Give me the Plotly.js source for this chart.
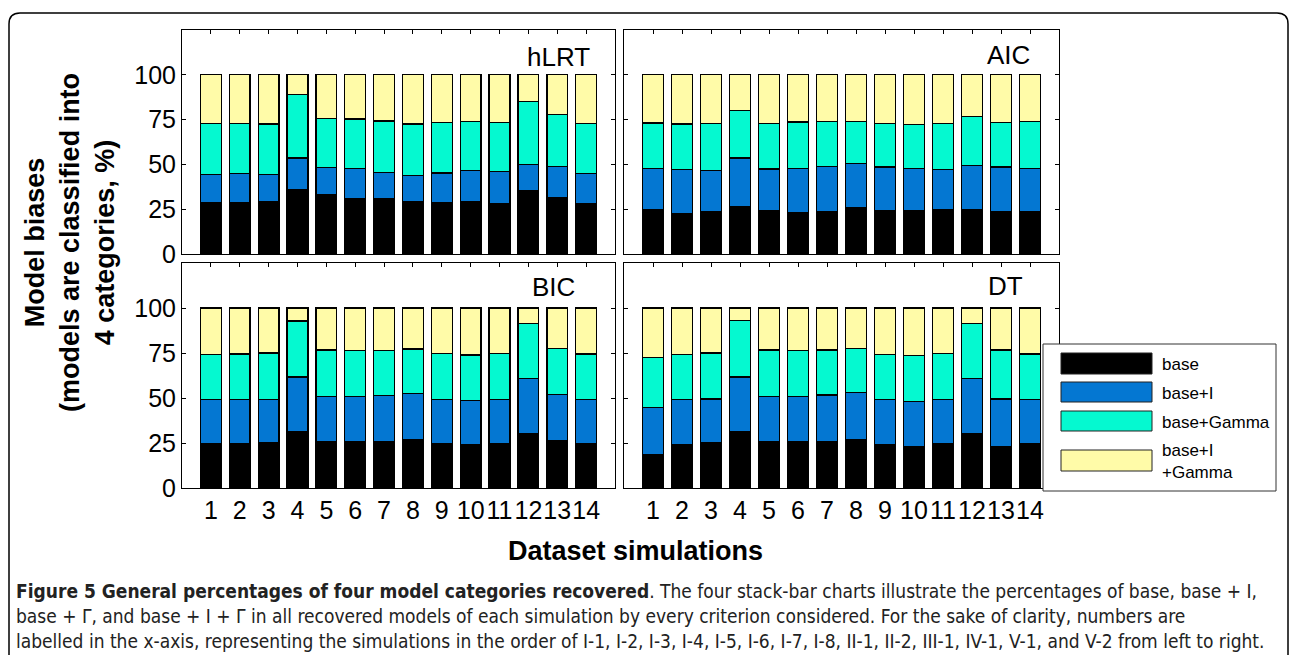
<!DOCTYPE html>
<html>
<head>
<meta charset="utf-8">
<script src="https://cdn.plot.ly/plotly-3.0.1.min.js"></script>
<style>html,body{margin:0;padding:0;background:#fff;}#chart{width:1290px;height:655px;}</style>
</head>
<body>
<div id="chart"></div>
<script>
// ---- data ----
const simulations = [1,2,3,4,5,6,7,8,9,10,11,12,13,14];
const tickLabels = ["1","2","3","4","5","6","7","8","9","10","11","12","13","14"];
const seriesNames = ["base","base+I","base+Gamma","base+I<br>+Gamma"];
const criteria = ["hLRT","AIC","BIC","DT"];

const hLRT_base   = [28.4,28.4,29.0,35.9,33.3,30.8,30.8,29.2,28.4,29.0,27.9,35.3,31.2,27.9];
const hLRT_I      = [16.1,16.5,15.3,17.7,14.9,17.1,14.8,14.7,16.8,17.7,18.3,14.6,17.8,17.0];
const hLRT_G      = [28.2,27.8,28.2,35.6,27.5,27.4,28.6,28.6,28.1,27.1,27.3,35.1,28.8,27.8];
const hLRT_IG     = [27.3,27.3,27.5,10.8,24.3,24.7,25.8,27.5,26.7,26.2,26.5,15.0,22.2,27.3];

const AIC_base    = [24.5,22.6,23.7,26.2,24.3,22.8,23.6,25.6,24.3,24.3,24.5,24.7,23.7,23.7];
const AIC_I       = [23.2,24.7,23.0,27.3,23.2,25.1,25.2,24.9,24.3,23.6,22.6,24.5,24.9,24.2];
const AIC_G       = [25.4,25.2,26.2,26.7,25.4,25.7,25.2,23.3,24.1,24.2,25.6,27.6,24.9,25.9];
const AIC_IG      = [26.9,27.5,27.1,19.8,27.1,26.4,26.0,26.2,27.3,27.9,27.3,23.2,26.5,26.2];

const BIC_base    = [24.6,24.6,25.0,31.3,25.5,25.5,25.9,26.8,24.8,24.2,24.8,30.4,26.4,24.8];
const BIC_I       = [24.4,24.7,24.3,30.3,25.5,25.5,25.5,25.7,24.5,24.6,24.5,30.3,25.4,24.4];
const BIC_G       = [25.3,25.2,25.7,31.1,25.7,25.4,25.1,24.8,25.4,25.1,25.6,30.7,25.7,25.3];
const BIC_IG      = [25.7,25.5,25.0, 7.3,23.3,23.6,23.5,22.7,25.3,26.1,25.1, 8.6,22.5,25.5];

const DT_base     = [18.4,24.0,25.0,31.3,25.5,25.5,25.9,26.8,24.0,23.1,24.6,30.4,23.1,24.8];
const DT_I        = [26.5,25.0,24.5,30.3,25.5,25.5,25.7,26.1,25.0,25.1,24.6,30.3,26.4,24.5];
const DT_G        = [27.5,25.3,25.5,31.3,25.7,25.4,25.1,24.6,25.3,25.4,25.5,30.7,27.2,25.2];
const DT_IG       = [27.6,25.7,25.0, 7.1,23.3,23.6,23.3,22.5,25.7,26.4,25.3, 8.6,23.3,25.5];

const yTickVals = [0,25,50,75,100];

const captionLines = [
  "<b>Figure 5 General percentages of four model categories recovered</b>. The four stack-bar charts illustrate the percentages of base, base + I,",
  "base + Γ, and base + I + Γ in all recovered models of each simulation by every criterion considered. For the sake of clarity, numbers are",
  "labelled in the x-axis, representing the simulations in the order of I-1, I-2, I-3, I-4, I-5, I-6, I-7, I-8, II-1, II-2, III-1, IV-1, V-1, and V-2 from left to right."
];

// ---- styling ----
const W = 1290, H = 655;
const px = v => v / W;
const py = v => 1 - v / H;
const colors = ["#000000", "#0477d2", "#05f9d0", "#fffba8"];
const FONT = "Liberation Sans, Arial, Helvetica, sans-serif";

const panelData = [
  [hLRT_base, hLRT_I, hLRT_G, hLRT_IG],
  [AIC_base, AIC_I, AIC_G, AIC_IG],
  [BIC_base, BIC_I, BIC_G, BIC_IG],
  [DT_base, DT_I, DT_G, DT_IG]
];
const axisIds = ["", "2", "3", "4"];

const traces = [];
panelData.forEach((series, p) => {
  series.forEach((vals, s) => {
    traces.push({
      type: "bar",
      x: simulations,
      y: vals,
      name: seriesNames[s],
      xaxis: "x" + axisIds[p],
      yaxis: "y" + axisIds[p],
      width: 0.72,
      marker: { color: colors[s], line: { color: "#000", width: 1.3 } },
      showlegend: false,
      hoverinfo: "x+y+name"
    });
  });
});

const xDomL = [px(182), px(615)];
const xDomR = [px(624), px(1059)];
const yDomT = [py(254), py(30)];
const yDomB = [py(488), py(263)];

function xAxis(domain, anchor, showLabels) {
  return {
    domain: domain, anchor: anchor, range: [0, 15],
    tickvals: simulations, ticktext: tickLabels,
    showticklabels: showLabels, tickangle: 0,
    ticks: "inside", ticklen: 4, tickwidth: 1, tickcolor: "#000",
    showline: true, linecolor: "#000", linewidth: 1, mirror: "ticks",
    showgrid: false, zeroline: false, fixedrange: true,
    tickfont: { family: FONT, size: 25, color: "#000" }
  };
}
function yAxis(domain, anchor, showLabels) {
  return {
    domain: domain, anchor: anchor, range: [0, 125],
    tickvals: yTickVals, ticktext: yTickVals.map(String),
    showticklabels: showLabels,
    ticks: "inside", ticklen: 4, tickwidth: 1, tickcolor: "#000",
    showline: true, linecolor: "#000", linewidth: 1, mirror: "ticks",
    showgrid: false, zeroline: false, fixedrange: true,
    tickfont: { family: FONT, size: 25, color: "#000" }
  };
}

const annotations = [];
// panel titles
const titlePos = [[592, 57], [1032, 55], [577, 287], [1025, 286]];
criteria.forEach((c, i) => {
  annotations.push({
    xref: "paper", yref: "paper", x: px(titlePos[i][0]), y: py(titlePos[i][1]),
    xanchor: "right", yanchor: "middle", text: c, showarrow: false,
    font: { family: FONT, size: 26, color: "#000" }
  });
});
// axis titles
annotations.push({
  xref: "paper", yref: "paper", x: px(70), y: py(243), textangle: -90,
  xanchor: "center", yanchor: "middle", showarrow: false, align: "center",
  text: "<b>Model biases<br>(models are classified into<br>4 categories, %)</b>",
  font: { family: FONT, size: 27, color: "#000" }
});
annotations.push({
  xref: "paper", yref: "paper", x: px(635), y: py(551),
  xanchor: "center", yanchor: "middle", showarrow: false,
  text: "<b>Dataset simulations</b>",
  font: { family: FONT, size: 27, color: "#000" }
});
// caption
const capY = [591, 616, 641];
captionLines.forEach((t, i) => {
  annotations.push({
    xref: "paper", yref: "paper", x: px(14), y: py(capY[i]),
    xanchor: "left", yanchor: "middle", showarrow: false, align: "left",
    text: t, font: { family: "Liberation Sans Narrow, DejaVu Sans Condensed, sans-serif", size: 19, color: "#222" }
  });
});

const shapes = [];
// outer rounded frame
const fx0 = px(9), fx1 = px(1288), fy0 = py(655), fy1 = py(13);
const rx = px(11) , ry = 11 / H;
shapes.push({
  type: "path", xref: "paper", yref: "paper",
  path: `M ${fx0},${fy0} L ${fx0},${fy1 - ry} Q ${fx0},${fy1} ${fx0 + rx},${fy1} L ${fx1 - rx},${fy1} Q ${fx1},${fy1} ${fx1},${fy1 - ry} L ${fx1},${fy0}`,
  line: { color: "#000", width: 1.5 }, layer: "below"
});
// legend box
shapes.push({
  type: "rect", xref: "paper", yref: "paper",
  x0: px(1043), x1: px(1276), y0: py(491), y1: py(344),
  fillcolor: "#fff", line: { color: "#333", width: 1 }, layer: "above"
});
const swY = [[353, 374], [382, 402], [411, 431], [450, 471]];
const txtY = [364, 393, 422, 461];
seriesNames.forEach((n, i) => {
  shapes.push({
    type: "rect", xref: "paper", yref: "paper",
    x0: px(1061), x1: px(1152), y0: py(swY[i][1]), y1: py(swY[i][0]),
    fillcolor: colors[i], line: { color: "#222", width: 1 }, layer: "above"
  });
  annotations.push({
    xref: "paper", yref: "paper", x: px(1160), y: py(txtY[i]),
    xanchor: "left", yanchor: "middle", showarrow: false, align: "left",
    text: n, font: { family: FONT, size: 17, color: "#000" }
  });
});

const layout = {
  width: W, height: H,
  margin: { l: 0, r: 0, t: 0, b: 0, pad: 0 },
  paper_bgcolor: "#fff", plot_bgcolor: "#fff",
  barmode: "stack", bargap: 0.28,
  showlegend: false,
  xaxis: xAxis(xDomL, "y", false),
  yaxis: yAxis(yDomT, "x", true),
  xaxis2: xAxis(xDomR, "y2", false),
  yaxis2: yAxis(yDomT, "x2", false),
  xaxis3: xAxis(xDomL, "y3", true),
  yaxis3: yAxis(yDomB, "x3", true),
  xaxis4: xAxis(xDomR, "y4", true),
  yaxis4: yAxis(yDomB, "x4", false),
  annotations: annotations,
  shapes: shapes
};

Plotly.newPlot("chart", traces, layout, { displayModeBar: false, staticPlot: false });
</script>
</body>
</html>
